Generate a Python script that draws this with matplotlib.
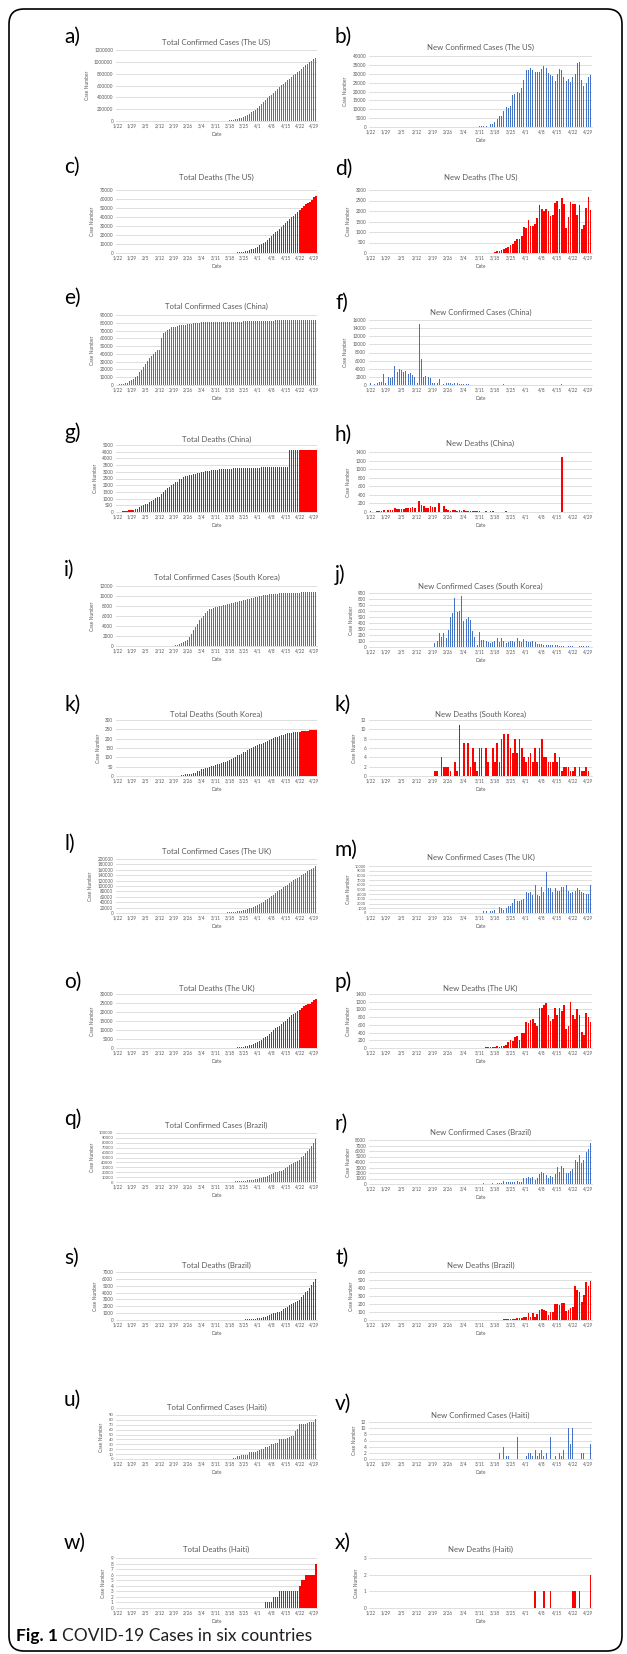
import numpy as np
import pandas as pd
import matplotlib
matplotlib.use("Agg")
import matplotlib.pyplot as plt
from matplotlib.patches import FancyBboxPatch
from matplotlib.ticker import FuncFormatter

plt.rcParams['font.family'] = ['Lato', 'DejaVu Sans']

# daily values 1/22 .. 4/30 (100 days), one line per week starting at each tick date
us_total_cases = [
    1, 1, 2, 2, 5, 5, 5,
    5, 5, 7, 8, 8, 11, 11,
    11, 12, 12, 12, 12, 12, 13,
    13, 14, 14, 14, 14, 14, 14,
    14, 14, 16, 16, 16, 16, 16,
    16, 17, 17, 25, 32, 55, 74,
    107, 184, 237, 403, 519, 594, 782,
    1147, 1586, 2219, 2978, 3212, 4679, 6512,
    9169, 13663, 20030, 26025, 34855, 46086, 56698,
    68773, 86613, 105293, 124900, 143779, 165861, 192177,
    224544, 256722, 289844, 321796, 352546, 383256, 414214,
    447140, 481539, 514945, 545644, 575069, 604012, 629743,
    655000, 686000, 716000, 744000, 770000, 796000, 822000,
    850000, 878000, 910000, 944000, 970000, 995000, 1020000,
    1046000, 1068000]
us_new_cases = [
    0, 0, 1, 0, 3, 0, 0,
    0, 0, 2, 1, 0, 3, 0,
    0, 1, 0, 0, 0, 0, 1,
    0, 1, 0, 0, 0, 0, 0,
    0, 0, 2, 0, 0, 0, 0,
    0, 1, 0, 8, 7, 23, 19,
    33, 77, 53, 166, 116, 75, 188,
    365, 439, 633, 759, 234, 1467, 1833,
    2657, 4494, 6367, 5995, 8830, 11231, 10612,
    12075, 17840, 18680, 19607, 18879, 22082, 26316,
    32367, 32178, 33122, 31952, 30750, 30710, 30958,
    32926, 34399, 33406, 30699, 29425, 28943, 25731,
    29722, 32454, 32019, 27986, 26022, 26791, 25540,
    28038, 29922, 36059, 36356, 26374, 23291, 24571,
    28132, 29500]
us_total_deaths = [0] * 36 + [
    0, 0, 1, 1, 6, 7, 11,
    12, 14, 17, 21, 22, 28, 36,
    40, 47, 54, 63, 85, 108, 158,
    238, 338, 488, 688, 938, 1238, 1638,
    2088, 2638, 3288, 3938, 4738, 5968, 7168,
    8718, 9998, 11268, 12668, 14318, 16618, 18718,
    20718, 22818, 24818, 26568, 28368, 30768, 33268,
    35368, 37968, 40318, 41518, 43218, 45668, 48018,
    50368, 52168, 54468, 55618, 56968, 59118, 61768,
    63818]
us_new_deaths = [0] * 36 + [
    0, 0, 1, 0, 5, 1, 4,
    1, 2, 3, 4, 1, 6, 8,
    4, 7, 7, 9, 22, 23, 50,
    80, 100, 150, 200, 250, 300, 400,
    450, 550, 650, 650, 800, 1230, 1200,
    1550, 1280, 1270, 1400, 1650, 2300, 2100,
    2000, 2100, 2000, 1750, 1800, 2400, 2500,
    2100, 2600, 2350, 1200, 1700, 2450, 2350,
    2350, 1800, 2300, 1150, 1350, 2150, 2650,
    2050]

china_total_cases = [
    548, 643, 920, 1406, 2075, 2877, 5509,
    6087, 8141, 9802, 11891, 16630, 19716, 23707,
    27440, 30587, 34110, 36814, 39829, 42354, 44386,
    44759, 59895, 66358, 68413, 70513, 72434, 74211,
    74619, 75077, 75550, 77001, 77022, 77241, 77754,
    78166, 78600, 78928, 79356, 79932, 80136, 80261,
    80386, 80537, 80690, 80770, 80823, 80860, 80887,
    80921, 80932, 80945, 80977, 81003, 81033, 81058,
    81102, 81156, 81250, 81305, 81435, 81498, 81591,
    81661, 81782, 81897, 81999, 82122, 82198, 82279,
    82361, 82432, 82511, 82543, 82602, 82665, 82718,
    82809, 82883, 82941, 83014, 83134, 83213, 83306,
    83356, 83403, 83760, 83787, 83805, 83817, 83853,
    83868, 83884, 83899, 83909, 83912, 83918, 83940,
    83944, 83956]
china_new_cases = [
    548, 95, 277, 486, 669, 802, 2632,
    578, 2054, 1661, 2089, 4739, 3086, 3991,
    3733, 3147, 3523, 2704, 3015, 2525, 2032,
    373, 15136, 6463, 2055, 2100, 1921, 1777,
    408, 458, 473, 1451, 21, 219, 513,
    412, 434, 328, 428, 576, 204, 125,
    125, 151, 153, 80, 53, 37, 27,
    34, 11, 13, 32, 26, 30, 25,
    44, 54, 94, 55, 130, 63, 93,
    70, 121, 115, 102, 123, 76, 81,
    82, 71, 79, 32, 59, 63, 53,
    91, 74, 58, 73, 120, 79, 93,
    50, 47, 357, 27, 18, 12, 36,
    15, 16, 15, 10, 3, 6, 22,
    4, 12]
china_total_deaths = [
    17, 18, 26, 42, 56, 82, 131,
    133, 171, 213, 259, 361, 425, 490,
    562, 632, 717, 804, 904, 1011, 1111,
    1116, 1368, 1520, 1662, 1765, 1863, 2002,
    2114, 2236, 2236, 2441, 2443, 2593, 2663,
    2715, 2744, 2788, 2835, 2870, 2912, 2945,
    2981, 3013, 3042, 3070, 3097, 3119, 3136,
    3158, 3169, 3176, 3189, 3199, 3213, 3226,
    3237, 3245, 3249, 3253, 3259, 3274, 3274,
    3281, 3285, 3291, 3296, 3299, 3304, 3308,
    3309, 3316, 3322, 3326, 3330, 3333, 3335,
    3335, 3337, 3339, 3340, 3343, 3343, 3345,
    3345, 3346, 4636, 4636, 4636, 4636, 4636,
    4636, 4636, 4636, 4636, 4637, 4637, 4637,
    4637, 4637]
china_new_deaths = [
    17, 1, 8, 16, 14, 26, 49,
    2, 38, 42, 46, 102, 64, 65,
    72, 70, 85, 87, 100, 107, 100,
    5, 252, 152, 142, 103, 98, 139,
    112, 122, 0, 205, 2, 150, 70,
    52, 29, 44, 47, 35, 42, 33,
    36, 32, 29, 28, 27, 22, 17,
    22, 11, 7, 13, 10, 14, 13,
    11, 8, 4, 4, 6, 15, 0,
    7, 4, 6, 5, 3, 5, 4,
    1, 7, 6, 4, 4, 3, 2,
    0, 2, 2, 1, 3, 0, 2,
    0, 1, 1290, 0, 0, 0, 0,
    0, 0, 0, 0, 1, 0, 0,
    0, 0]

korea_total_cases = [
    1, 1, 2, 2, 3, 4, 4,
    4, 4, 11, 12, 15, 15, 16,
    19, 23, 24, 24, 25, 27, 28,
    28, 28, 28, 28, 29, 30, 31,
    31, 104, 204, 433, 602, 833, 977,
    1261, 1766, 2337, 3150, 3736, 4335, 5186,
    5621, 6088, 6593, 7041, 7314, 7478, 7513,
    7755, 7869, 7979, 8086, 8162, 8236, 8320,
    8413, 8565, 8652, 8799, 8897, 8961, 9037,
    9137, 9241, 9332, 9478, 9583, 9661, 9786,
    9887, 9976, 10062, 10156, 10237, 10284, 10331,
    10384, 10423, 10450, 10480, 10512, 10537, 10564,
    10591, 10613, 10635, 10653, 10661, 10674, 10683,
    10694, 10702, 10708, 10718, 10728, 10738, 10752,
    10761, 10765]
korea_new_cases = [
    1, 0, 1, 0, 1, 1, 0,
    0, 0, 7, 1, 3, 0, 1,
    3, 4, 1, 0, 1, 2, 1,
    0, 0, 0, 0, 1, 1, 1,
    0, 73, 100, 229, 169, 231, 144,
    284, 505, 571, 813, 586, 599, 851,
    435, 467, 505, 448, 273, 164, 35,
    242, 114, 110, 107, 76, 74, 84,
    93, 152, 87, 147, 98, 64, 76,
    100, 104, 91, 146, 105, 78, 125,
    101, 89, 86, 94, 81, 47, 47,
    53, 39, 27, 30, 32, 25, 27,
    27, 22, 22, 18, 8, 13, 9,
    11, 8, 6, 10, 10, 10, 14,
    9, 4]
korea_total_deaths = [0] * 28 + [
    0, 1, 2, 2, 6, 8, 10,
    12, 13, 13, 16, 17, 28, 28,
    35, 35, 42, 44, 50, 53, 54,
    60, 66, 66, 72, 75, 75, 81,
    84, 91, 94, 102, 111, 111, 120,
    126, 131, 139, 144, 152, 158, 162,
    165, 169, 174, 177, 183, 186, 192,
    200, 204, 208, 211, 214, 217, 222,
    225, 229, 230, 232, 234, 236, 237,
    238, 240, 240, 242, 243, 244, 246,
    247, 247]
korea_new_deaths = [0] * 28 + [
    0, 1, 1, 0, 4, 2, 2,
    2, 1, 0, 3, 1, 11, 0,
    7, 0, 7, 2, 6, 3, 1,
    6, 6, 0, 6, 3, 0, 6,
    3, 7, 3, 8, 9, 0, 9,
    6, 5, 8, 5, 8, 6, 4,
    3, 4, 5, 3, 6, 3, 6,
    8, 4, 4, 3, 3, 3, 5,
    3, 4, 1, 2, 2, 2, 1,
    1, 2, 0, 2, 1, 1, 2,
    1, 0]

uk_total_cases = [
    0, 0, 0, 0, 0, 0, 0,
    0, 0, 2, 2, 2, 2, 2,
    2, 3, 3, 3, 3, 8, 8,
    9, 9, 9, 9, 9, 9, 9,
    9, 9, 9, 9, 9, 13, 13,
    13, 15, 20, 23, 36, 40, 51,
    86, 116, 164, 207, 274, 322, 384,
    459, 459, 802, 1144, 1145, 1551, 1960,
    2642, 2716, 4014, 5067, 5745, 6726, 8164,
    9640, 11812, 14745, 17312, 19780, 22453, 25481,
    29865, 34173, 38689, 42477, 48436, 52279, 55949,
    61474, 65872, 74605, 79874, 85206, 89570, 94845,
    99483, 104145, 109769, 115314, 121172, 125856, 130172,
    134638, 139246, 144640, 149569, 154037, 158348, 162350,
    166441, 172481]
uk_new_cases = [
    0, 0, 0, 0, 0, 0, 0,
    0, 0, 2, 0, 0, 0, 0,
    0, 1, 0, 0, 0, 5, 0,
    1, 0, 0, 0, 0, 0, 0,
    0, 0, 0, 0, 0, 4, 0,
    0, 2, 5, 3, 13, 4, 11,
    35, 30, 48, 43, 67, 48, 62,
    75, 0, 343, 342, 1, 406, 409,
    682, 74, 1298, 1053, 678, 981, 1438,
    1476, 2172, 2933, 2567, 2468, 2673, 3028,
    4384, 4308, 4516, 3788, 5959, 3843, 3670,
    5525, 4398, 8733, 5269, 5332, 4364, 5275,
    4638, 4662, 5624, 5545, 5858, 4684, 4316,
    4466, 4608, 5394, 4929, 4468, 4311, 4002,
    4091, 6040]
uk_total_deaths = [0] * 42 + [
    0, 0, 1, 1, 2, 3, 5,
    7, 8, 18, 32, 52, 68, 88,
    118, 158, 193, 248, 293, 383, 533,
    733, 923, 1213, 1513, 1733, 2113, 2503,
    3183, 3843, 4563, 5323, 5973, 6553, 7593,
    8633, 9753, 10913, 11763, 12463, 13213, 14263,
    15113, 16153, 17103, 18223, 18723, 19283, 20463,
    21313, 22053, 23073, 23923, 24343, 24693, 25613,
    26413, 27093]
uk_new_deaths = [0] * 42 + [
    0, 0, 1, 0, 1, 1, 2,
    2, 1, 10, 14, 20, 16, 20,
    30, 40, 35, 55, 45, 90, 150,
    200, 190, 290, 300, 220, 380, 390,
    680, 660, 720, 760, 650, 580, 1040,
    1040, 1120, 1160, 850, 700, 750, 1050,
    850, 1040, 950, 1120, 500, 560, 1180,
    850, 740, 1020, 850, 420, 350, 920,
    800, 680]

brazil_total_cases = [0] * 35 + [
    1, 1, 1, 2, 2, 2, 2,
    4, 4, 13, 13, 20, 25, 31,
    38, 52, 151, 151, 162, 200, 321,
    372, 621, 793, 1021, 1546, 1924, 2247,
    2554, 2985, 3417, 3904, 4256, 4579, 5717,
    6836, 8044, 9056, 10360, 11130, 12161, 14034,
    16170, 18092, 19638, 20727, 22192, 23430, 25262,
    28320, 30425, 33682, 36658, 38654, 40743, 43079,
    45757, 50036, 54043, 59324, 63100, 67446, 73235,
    79685, 87187]
brazil_new_cases = [0] * 35 + [
    1, 0, 0, 1, 0, 0, 0,
    2, 0, 9, 0, 7, 5, 6,
    7, 14, 99, 0, 11, 38, 121,
    51, 249, 172, 228, 525, 378, 323,
    307, 431, 432, 487, 352, 323, 1138,
    1119, 1208, 1012, 1304, 770, 1031, 1873,
    2136, 1922, 1546, 1089, 1465, 1238, 1832,
    3058, 2105, 3257, 2976, 1996, 2089, 2336,
    2678, 4279, 4007, 5281, 3776, 4346, 5789,
    6450, 7502]
brazil_total_deaths = [0] * 55 + [1] + [
    3, 6, 11, 15, 25, 34, 46,
    59, 77, 92, 111, 136, 159, 201,
    240, 324, 359, 445, 486, 564, 686,
    819, 950, 1057, 1124, 1223, 1328, 1532,
    1736, 1924, 2141, 2354, 2462, 2587, 2741,
    2906, 3331, 3704, 4057, 4286, 4603, 5083,
    5513, 6006]
brazil_new_deaths = [0] * 55 + [1] + [
    2, 3, 5, 4, 10, 9, 12,
    13, 18, 15, 19, 25, 23, 42,
    39, 84, 35, 86, 41, 78, 122,
    133, 131, 107, 67, 99, 105, 204,
    204, 188, 217, 213, 108, 125, 154,
    165, 425, 373, 353, 229, 317, 480,
    430, 493]

haiti_total_cases = [0] * 58 + [2, 2, 6, 7, 8] + [
    8, 8, 8, 15, 15, 15, 15,
    16, 18, 20, 21, 24, 25, 27,
    30, 31, 33, 33, 40, 40, 41,
    41, 43, 44, 47, 47, 57, 62,
    72, 72, 72, 72, 74, 76, 76,
    76, 81]
haiti_new_cases = [0] * 58 + [2, 0, 4, 1, 1] + [
    0, 0, 0, 7, 0, 0, 0,
    1, 2, 2, 1, 3, 1, 2,
    3, 1, 2, 0, 7, 0, 1,
    0, 2, 1, 3, 0, 10, 5,
    10, 0, 0, 0, 2, 2, 0,
    0, 5]
haiti_total_deaths = [0] * 74 + [1, 1, 1] + [
    1, 2, 2, 2, 3, 3, 3,
    3, 3, 3, 3, 3, 3, 3,
    4, 5, 5, 6, 6, 6, 6,
    6, 8]
haiti_new_deaths = [0] * 74 + [1, 0, 0] + [
    0, 1, 0, 0, 1, 0, 0,
    0, 0, 0, 0, 0, 0, 0,
    1, 1, 0, 1, 0, 0, 0,
    0, 2]

dates = pd.date_range("2020-01-22", "2020-04-30")
day_labels = [f"{d.month}/{d.day}" for d in dates]
tick_pos = list(range(0, len(dates), 7))

BLUE = "#4472C4"
RED = "#FF0000"
GREY_TXT = "#595959"
GRID = "#D9D9D9"

W, H = 627, 1654
fig = plt.figure(figsize=(W / 100, H / 100), dpi=100)

# row geometry in pixels: (label y, title y, plot top, plot bottom) for left and right
rows = [
    ((37, 42, 50, 121), (37, 47, 56, 127)),
    ((167, 177, 190, 253), (169, 177, 190, 253)),
    ((298, 306, 315, 385), (303, 312, 320, 385)),
    ((433, 439, 445, 512), (435, 443, 452, 512)),
    ((570, 577, 586, 646), (575, 586, 593, 647)),
    ((705, 714, 720, 776), (705, 714, 720, 776)),
    ((844, 851, 859, 913), (850, 857, 866, 913)),
    ((982, 988, 994, 1048), (982, 988, 994, 1048)),
    ((1119, 1125, 1133, 1182), (1124, 1132, 1140, 1184)),
    ((1258, 1265, 1272, 1320), (1258, 1265, 1272, 1320)),
    ((1400, 1407, 1415, 1459), (1404, 1415, 1422, 1459)),
    ((1543, 1549, 1558, 1608), (1543, 1549, 1558, 1608)),
]
cols = [(116, 317, 64), (369, 592, 335)]

panels = [
    ("a)", "Total Confirmed Cases (The US)", us_total_cases, BLUE, 1200000, 200000),
    ("b)", "New Confirmed Cases (The US)", us_new_cases, BLUE, 40000, 5000),
    ("c)", "Total Deaths (The US)", us_total_deaths, RED, 70000, 10000),
    ("d)", "New Deaths (The US)", us_new_deaths, RED, 3000, 500),
    ("e)", "Total Confirmed Cases (China)", china_total_cases, BLUE, 90000, 10000),
    ("f)", "New Confirmed Cases (China)", china_new_cases, BLUE, 16000, 2000),
    ("g)", "Total Deaths (China)", china_total_deaths, RED, 5000, 500),
    ("h)", "New Deaths (China)", china_new_deaths, RED, 1400, 200),
    ("i)", "Total Confirmed Cases (South Korea)", korea_total_cases, BLUE, 12000, 2000),
    ("j)", "New Confirmed Cases (South Korea)", korea_new_cases, BLUE, 900, 100),
    ("k)", "Total Deaths (South Korea)", korea_total_deaths, RED, 300, 50),
    ("k)", "New Deaths (South Korea)", korea_new_deaths, RED, 12, 2),
    ("l)", "Total Confirmed Cases (The UK)", uk_total_cases, BLUE, 200000, 20000),
    ("m)", "New Confirmed Cases (The UK)", uk_new_cases, BLUE, 10000, 1000),
    ("o)", "Total Deaths (The UK)", uk_total_deaths, RED, 30000, 5000),
    ("p)", "New Deaths (The UK)", uk_new_deaths, RED, 1400, 200),
    ("q)", "Total Confirmed Cases (Brazil)", brazil_total_cases, BLUE, 100000, 10000),
    ("r)", "New Confirmed Cases (Brazil)", brazil_new_cases, BLUE, 8000, 1000),
    ("s)", "Total Deaths (Brazil)", brazil_total_deaths, RED, 7000, 1000),
    ("t)", "New Deaths (Brazil)", brazil_new_deaths, RED, 600, 100),
    ("u)", "Total Confirmed Cases (Haiti)", haiti_total_cases, BLUE, 90, 10),
    ("v)", "New Confirmed Cases (Haiti)", haiti_new_cases, BLUE, 12, 2),
    ("w)", "Total Deaths (Haiti)", haiti_total_deaths, RED, 9, 1),
    ("x)", "New Deaths (Haiti)", haiti_new_deaths, RED, 3, 1),
]

for i, (letter, title, values, color, ymax, ystep) in enumerate(panels):
    row, col = i // 2, i % 2
    label_y, title_y, top, bottom = rows[row][col]
    left, right, label_x = cols[col]
    ax = fig.add_axes([left / W, 1 - bottom / H, (right - left) / W, (bottom - top) / H])

    width = 0.45 if color == BLUE else 0.75
    if letter == "s)":
        width = 0.35
    ax.bar(np.arange(len(values)), values, width=width, color=color, linewidth=0, zorder=3)

    ax.set_xlim(-0.6, len(dates) - 0.4)
    ax.set_ylim(0, ymax)
    ax.set_yticks(np.arange(0, ymax + ystep / 2, ystep))
    ax.yaxis.set_major_formatter(FuncFormatter(lambda v, p: f"{v:.0f}"))
    ax.set_xticks(tick_pos)
    ax.set_xticklabels([day_labels[t] for t in tick_pos])
    # keep y labels from running into each other on the short panels
    grid_gap = (bottom - top) / (ymax / ystep)
    ax.tick_params(axis="y", length=0, labelsize=min(3.3, 0.6 * grid_gap), colors=GREY_TXT, pad=2)
    ax.tick_params(axis="x", length=0, labelsize=3.3, colors=GREY_TXT, pad=2)
    ax.grid(axis="y", color=GRID, linewidth=0.6, zorder=0)
    for side in ["top", "right", "left"]:
        ax.spines[side].set_visible(False)
    ax.spines["bottom"].set_color(GRID)
    ax.spines["bottom"].set_linewidth(0.6)
    ax.set_xlabel("Date", fontsize=3.5, color=GREY_TXT, labelpad=2)
    ax.set_ylabel("Case Number", fontsize=3.5, color=GREY_TXT, labelpad=3)

    fig.text((left + right) / 2 / W, 1 - title_y / H, title, fontsize=5.6, color=GREY_TXT,
             ha="center", va="center")
    fig.text(label_x / W, 1 - label_y / H, letter, fontsize=15, color="black",
             ha="left", va="center")

# rounded frame around the figure
frame = FancyBboxPatch((0.09, 0.03), 6.13, 16.42, boxstyle="round,pad=0,rounding_size=0.15",
                       transform=fig.dpi_scale_trans, fill=False, edgecolor="black", linewidth=1.2)
fig.patches.append(frame)

cap1 = fig.text(16 / W, 1 - 1636 / H, "Fig. 1", fontsize=12.5, fontweight="bold", va="center")
fig.canvas.draw()
bb = cap1.get_window_extent()
fig.text(bb.x1 / W + 4 / W, 1 - 1636 / H, "COVID-19 Cases in six countries", fontsize=12.5,
         va="center", color="#231F20")

fig.savefig("out.png", dpi=100)
